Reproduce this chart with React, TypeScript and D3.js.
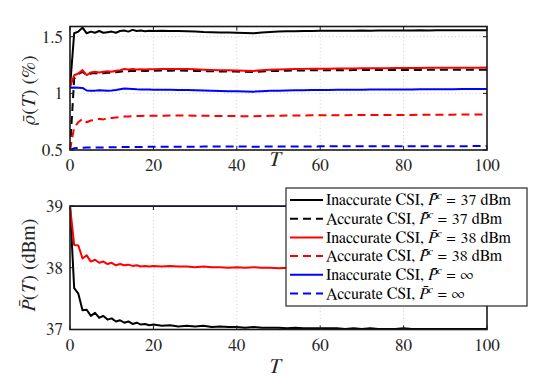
import React from 'react';
import * as d3 from 'd3';

// time axis: unit steps up to 20, then every 2
const T = [
  0, 1, 2, 3, 4, 5, 6, 7, 8, 9, 10, 11, 12, 13, 14, 15, 16, 17, 18, 19, 20,
  22, 24, 26, 28, 30, 32, 34, 36, 38, 40, 42, 44, 46, 48, 50, 52, 54, 56, 58, 60,
  62, 64, 66, 68, 70, 72, 74, 76, 78, 80, 82, 84, 86, 88, 90, 92, 94, 96, 98, 100,
];

// top panel: rho(T) in %
const rhoInacc37 = [
  1.05, 1.53, 1.545, 1.58, 1.53, 1.545, 1.535, 1.55, 1.535, 1.54, 1.545, 1.535, 1.55, 1.555, 1.545, 1.56, 1.55, 1.555, 1.548, 1.552, 1.55,
  1.552, 1.55, 1.551, 1.549, 1.546, 1.542, 1.54, 1.537, 1.536, 1.535, 1.533, 1.531, 1.538, 1.542, 1.545, 1.547, 1.549, 1.55, 1.551, 1.552,
  1.552, 1.553, 1.552, 1.553, 1.554, 1.553, 1.554, 1.555, 1.554, 1.555, 1.555, 1.556, 1.555, 1.556, 1.556, 1.557, 1.556, 1.557, 1.557, 1.557,
];
const rhoAcc37 = [
  0.5, 1.13, 1.17, 1.19, 1.16, 1.175, 1.18, 1.17, 1.178, 1.182, 1.18, 1.186, 1.19, 1.198, 1.195, 1.2, 1.196, 1.2, 1.198, 1.2, 1.2,
  1.201, 1.2, 1.201, 1.2, 1.198, 1.196, 1.195, 1.193, 1.192, 1.192, 1.19, 1.188, 1.193, 1.196, 1.198, 1.2, 1.201, 1.202, 1.203, 1.204,
  1.204, 1.205, 1.204, 1.205, 1.206, 1.205, 1.206, 1.206, 1.207, 1.206, 1.207, 1.207, 1.208, 1.207, 1.208, 1.208, 1.208, 1.209, 1.208, 1.209,
];
const rhoInacc38 = [
  1.055, 1.16, 1.175, 1.205, 1.16, 1.185, 1.19, 1.185, 1.19, 1.195, 1.19, 1.2, 1.205, 1.215, 1.21, 1.215, 1.21, 1.212, 1.21, 1.212, 1.212,
  1.214, 1.215, 1.216, 1.214, 1.212, 1.209, 1.206, 1.204, 1.203, 1.202, 1.2, 1.198, 1.204, 1.208, 1.211, 1.213, 1.215, 1.216, 1.217, 1.218,
  1.218, 1.219, 1.219, 1.22, 1.221, 1.221, 1.222, 1.222, 1.223, 1.223, 1.224, 1.224, 1.225, 1.225, 1.225, 1.226, 1.226, 1.227, 1.227, 1.228,
];
const rhoAcc38 = [
  0.5, 0.7, 0.745, 0.775, 0.745, 0.76, 0.765, 0.775, 0.77, 0.78, 0.783, 0.787, 0.79, 0.795, 0.795, 0.798, 0.8, 0.8, 0.802, 0.802, 0.803,
  0.803, 0.804, 0.804, 0.804, 0.803, 0.802, 0.801, 0.8, 0.8, 0.799, 0.798, 0.797, 0.8, 0.802, 0.803, 0.804, 0.805, 0.805, 0.806, 0.806,
  0.806, 0.807, 0.807, 0.808, 0.808, 0.808, 0.809, 0.809, 0.81, 0.81, 0.81, 0.811, 0.811, 0.812, 0.812, 0.812, 0.813, 0.813, 0.813, 0.814,
];
const rhoInaccInf = [
  1.05, 1.052, 1.05, 1.048, 1.025, 1.022, 1.024, 1.028, 1.026, 1.023, 1.026, 1.03, 1.036, 1.042, 1.04, 1.038, 1.036, 1.035, 1.034, 1.033, 1.032,
  1.032, 1.031, 1.03, 1.029, 1.027, 1.025, 1.022, 1.02, 1.019, 1.018, 1.016, 1.015, 1.019, 1.022, 1.024, 1.026, 1.027, 1.028, 1.029, 1.03,
  1.03, 1.031, 1.031, 1.032, 1.032, 1.033, 1.033, 1.034, 1.034, 1.035, 1.035, 1.036, 1.036, 1.036, 1.037, 1.037, 1.038, 1.038, 1.038, 1.039,
];
const rhoAccInf = [
  0.5, 0.515, 0.518, 0.52, 0.521, 0.521, 0.522, 0.523, 0.523, 0.524, 0.524, 0.525, 0.525, 0.526, 0.526, 0.527, 0.527, 0.527, 0.528, 0.528, 0.528,
  0.528, 0.529, 0.529, 0.529, 0.529, 0.53, 0.53, 0.53, 0.53, 0.53, 0.53, 0.529, 0.53, 0.53, 0.531, 0.531, 0.531, 0.531, 0.531, 0.532,
  0.532, 0.532, 0.532, 0.532, 0.532, 0.533, 0.533, 0.533, 0.533, 0.533, 0.533, 0.533, 0.534, 0.534, 0.534, 0.534, 0.534, 0.534, 0.535, 0.535,
];

// bottom panel: P(T) in dBm
const powInacc37 = [
  39, 37.67, 37.58, 37.31, 37.32, 37.22, 37.27, 37.19, 37.22, 37.16, 37.18, 37.13, 37.15, 37.11, 37.13, 37.09, 37.11, 37.08, 37.09, 37.07, 37.08,
  37.06, 37.07, 37.05, 37.06, 37.05, 37.06, 37.04, 37.05, 37.04, 37.04, 37.03, 37.04, 37.03, 37.03, 37.03, 37.02, 37.03, 37.02, 37.02, 37.02,
  37.02, 37.02, 37.01, 37.02, 37.01, 37.02, 37.01, 37.01, 37.01, 37.02, 37.01, 37.01, 37.01, 37.01, 37.01, 37.01, 37.01, 37.01, 37.01, 37.01,
];
const powInacc38 = [
  39, 38.37, 38.36, 38.15, 38.2, 38.1, 38.13, 38.08, 38.1, 38.06, 38.08, 38.04, 38.06, 38.04, 38.05, 38.03, 38.04, 38.02, 38.03, 38.02, 38.03,
  38.02, 38.03, 38.02, 38.02, 38.01, 38.02, 38.01, 38.01, 38.0, 38.01, 38.0, 38.01, 38.0, 38.0, 37.99, 38.0, 37.99, 38.0, 37.99, 37.99,
  37.99, 37.99, 37.99, 37.99, 37.98, 37.99, 37.98, 37.98, 37.98, 37.98, 37.98, 37.98, 37.98, 37.98, 37.98, 37.98, 37.98, 37.98, 37.98, 37.98,
];
const powInfT = [0, 100];
const powInaccInf = [39, 39];

const xTicks = [0, 20, 40, 60, 80, 100];
const rhoTicks = [0.5, 1, 1.5];
const rhoTickLabels = ['0.5', '1', '1.5'];
const powTicks = [37, 38, 39];
const powTickLabels = ['37', '38', '39'];

const legendColors = ['#000000', '#000000', '#ff0000', '#ff0000', '#0000ff', '#0000ff'];
const legendDashed = [false, true, false, true, false, true];
const legendPrefix = ['Inaccurate CSI, ', 'Accurate CSI, ', 'Inaccurate CSI, ', 'Accurate CSI, ', 'Inaccurate CSI, ', 'Accurate CSI, '];
const legendValue = ['37 dBm', '37 dBm', '38 dBm', '38 dBm', '\u221e', '\u221e'];

const FAMILY = "'FreeSerif', 'Liberation Serif', 'Times New Roman', serif";
const SERIF = { fontFamily: FAMILY };
const DASH = '8,5';

const x = d3.scaleLinear().domain([0, 100]).range([70, 487]);
const yTop = d3.scaleLinear().domain([0.5, 1.59]).range([150, 26.5]);
const yBot = d3.scaleLinear().domain([37, 39]).range([329.5, 206]);

type Series = { t: number[]; v: number[]; color: string; dashed: boolean };

const topSeries: Series[] = [
  { t: T, v: rhoInacc37, color: legendColors[0], dashed: false },
  { t: T, v: rhoAcc37, color: legendColors[1], dashed: true },
  { t: T, v: rhoInacc38, color: legendColors[2], dashed: false },
  { t: T, v: rhoAcc38, color: legendColors[3], dashed: true },
  { t: T, v: rhoInaccInf, color: legendColors[4], dashed: false },
  { t: T, v: rhoAccInf, color: legendColors[5], dashed: true },
];
const botSeries: Series[] = [
  { t: T, v: powInacc37, color: legendColors[0], dashed: false },
  { t: T, v: powInacc38, color: legendColors[2], dashed: false },
  { t: powInfT, v: powInaccInf, color: legendColors[4], dashed: false },
];

// italic letter with a bar on top
const Bar = ({ ch }: { ch: string }) => (
  <tspan fontStyle="italic" style={SERIF}>{ch + '\u0304'}</tspan>
);

const Panel = ({ id, y, series, ticks, tickLabels }: any) => {
  const [yb, yt] = y.range();
  const [xl, xr] = x.range();
  const line = (s: Series) =>
    d3.line<number>().x((_, i) => x(s.t[i])).y((d) => y(d))(s.v) || '';
  return (
    <g>
      <defs>
        <clipPath id={id}>
          <rect x={xl} y={yt} width={xr - xl} height={yb - yt} />
        </clipPath>
      </defs>
      <rect x={xl} y={yt} width={xr - xl} height={yb - yt} fill="#fff" />
      {/* grid */}
      {xTicks.slice(1, -1).map((t) => (
        <line key={'gx' + t} x1={x(t)} x2={x(t)} y1={yt} y2={yb} stroke="#c4c4c4" strokeWidth={0.8} strokeDasharray="1,2.5" />
      ))}
      {ticks.map((t: number) => (
        <line key={'gy' + t} x1={xl} x2={xr} y1={y(t)} y2={y(t)} stroke="#c4c4c4" strokeWidth={0.8} strokeDasharray="1,2.5" />
      ))}
      {/* data */}
      <g clipPath={`url(#${id})`}>
        {series.map((s: Series, i: number) => (
          <path key={i} d={line(s)} fill="none" stroke={s.color} strokeWidth={2} strokeDasharray={s.dashed ? DASH : undefined} strokeLinejoin="round" />
        ))}
      </g>
      {/* frame and ticks */}
      <rect x={xl} y={yt} width={xr - xl} height={yb - yt} fill="none" stroke="#1a1a1a" strokeWidth={1.6} />
      {xTicks.map((t) => (
        <g key={'tx' + t}>
          <line x1={x(t)} x2={x(t)} y1={yb} y2={yb - 4} stroke="#1a1a1a" strokeWidth={1} />
          <line x1={x(t)} x2={x(t)} y1={yt} y2={yt + 4} stroke="#1a1a1a" strokeWidth={1} />
          <text x={x(t)} y={yb + 21} textAnchor="middle" fontSize={17} fill="#262626" style={SERIF}>{String(t)}</text>
        </g>
      ))}
      {ticks.map((t: number, i: number) => (
        <g key={'ty' + t}>
          <line x1={xl} x2={xl + 4} y1={y(t)} y2={y(t)} stroke="#1a1a1a" strokeWidth={1} />
          <line x1={xr} x2={xr - 4} y1={y(t)} y2={y(t)} stroke="#1a1a1a" strokeWidth={1} />
          <text x={xl - 7} y={y(t)} dy="0.35em" textAnchor="end" fontSize={17} fill="#262626" style={SERIF}>{tickLabels[i]}</text>
        </g>
      ))}
    </g>
  );
};

const Legend = () => {
  const lx = 286, ly = 188, lw = 241, lh = 118;
  const row0 = 200, step = 18.7;
  return (
    <g>
      <rect x={lx} y={ly} width={lw} height={lh} fill="#fff" stroke="#262626" strokeWidth={1.2} />
      {legendPrefix.map((p, i) => {
        const yy = row0 + i * step;
        return (
          <g key={i}>
            <line x1={290} x2={323} y1={yy} y2={yy} stroke={legendColors[i]} strokeWidth={2} strokeDasharray={legendDashed[i] ? DASH : undefined} />
            <text x={326} y={yy} dy="0.33em" fontSize={16} fill="#000" style={SERIF}>
              {p}
              <Bar ch="P" />
              <tspan fontStyle="italic" fontSize={11} dy={-6}>c</tspan>
              <tspan dy={6} dx={5}>=</tspan>
              <tspan dx={5}>{legendValue[i]}</tspan>
            </text>
          </g>
        );
      })}
    </g>
  );
};

export default function App() {
  return (
    <svg width={538} height={377} style={{ position: 'absolute', left: 0, top: 0, background: '#fff', fontFamily: FAMILY }}>
      <rect width={538} height={377} fill="#fff" />
      <Panel id="clipTop" y={yTop} series={topSeries} ticks={rhoTicks} tickLabels={rhoTickLabels} />
      <Panel id="clipBot" y={yBot} series={botSeries} ticks={powTicks} tickLabels={powTickLabels} />
      {/* axis labels */}
      <text x={275} y={166} textAnchor="middle" fontSize={21} fontStyle="italic" fill="#262626" style={SERIF}>T</text>
      <text x={275} y={373} textAnchor="middle" fontSize={21} fontStyle="italic" fill="#262626" style={SERIF}>T</text>
      <text transform="translate(35,90) rotate(-90)" textAnchor="middle" fontSize={20} fill="#262626" style={SERIF}>
        <Bar ch={'\u03c1'} />(<tspan fontStyle="italic">T</tspan>) (%)
      </text>
      <text transform="translate(35,265) rotate(-90)" textAnchor="middle" fontSize={20} fill="#262626" style={SERIF}>
        <Bar ch="P" />(<tspan fontStyle="italic">T</tspan>) (dBm)
      </text>
      <Legend />
    </svg>
  );
}
